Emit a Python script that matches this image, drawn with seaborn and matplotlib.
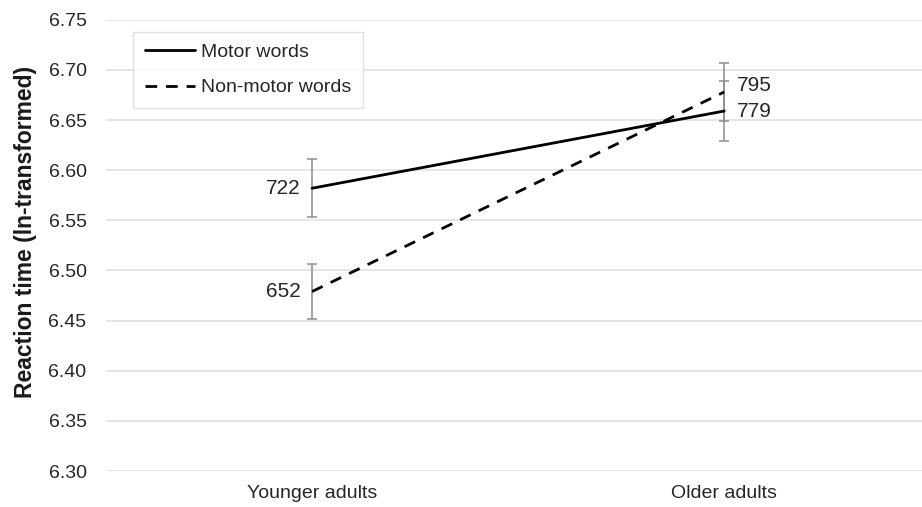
import matplotlib
matplotlib.use("Agg")
import matplotlib.pyplot as plt
import seaborn as sns
import pandas as pd

# datos
grupos = ["Younger adults", "Older adults"]
condiciones = ["Motor words", "Non-motor words"]
motor = [6.582, 6.659]
no_motor = [6.479, 6.678]
err_motor = [0.029, 0.030]
err_no_motor = [0.027, 0.029]
etiquetas_motor = ["722", "779"]
etiquetas_no_motor = ["652", "795"]

sns.set_theme(style="whitegrid")
plt.rcParams["font.family"] = ["Liberation Sans", "DejaVu Sans"]

df = pd.DataFrame({
    "grupo": grupos * 2,
    "condicion": [condiciones[0]] * 2 + [condiciones[1]] * 2,
    "rt": motor + no_motor,
})

fig = plt.figure(figsize=(9.22, 5.07), dpi=100)
ax = fig.add_axes([0.115, 0.071, 0.894, 0.89])

# barras de error (gris)
for vals, errs in [(motor, err_motor), (no_motor, err_no_motor)]:
    ax.errorbar(range(len(grupos)), vals, yerr=errs, fmt="none", ecolor="#8c8c8c",
                elinewidth=1.1, capsize=3.4, capthick=1.1, zorder=2)

sns.lineplot(data=df, x="grupo", y="rt", style="condicion", color="black",
             linewidth=2.0, ax=ax, sort=False, zorder=3,
             dashes={condiciones[0]: "", condiciones[1]: (4.2, 3.2)})

# etiquetas de valores
ax.text(0 - 0.028, motor[0], etiquetas_motor[0], ha="right", va="center", fontsize=15, color="#262626")
ax.text(0 - 0.028, no_motor[0], etiquetas_no_motor[0], ha="right", va="center", fontsize=15, color="#262626")
ax.text(1 + 0.03, motor[1], etiquetas_motor[1], ha="left", va="center", fontsize=15, color="#262626")
ax.text(1 + 0.03, no_motor[1] + 0.006, etiquetas_no_motor[1], ha="left", va="center", fontsize=15, color="#262626")

ax.set_xlim(-0.5, 1.5)
ax.set_ylim(6.30, 6.75)
ax.set_yticks([6.30 + 0.05 * i for i in range(10)])
ax.yaxis.set_major_formatter(matplotlib.ticker.FormatStrFormatter("%.2f"))
ax.grid(axis="x", visible=False)
ax.grid(axis="y", color="#e0e0e0", linewidth=1.2)
for s in ax.spines.values():
    s.set_visible(False)
ax.tick_params(axis="both", labelsize=14, colors="#262626", length=0)
ax.tick_params(axis="y", pad=14)
ax.tick_params(axis="x", pad=10)
ax.set_xlabel("")
ax.set_ylabel("Reaction time (ln-transformed)", fontsize=16.5, fontweight="bold", color="#1a1a1a")
ax.yaxis.set_label_coords(-0.084, 0.53)

leg = ax.legend(loc="upper left", bbox_to_anchor=(0.033, 0.973), frameon=True,
                fontsize=14, handlelength=2.6, handletextpad=0.3, borderpad=0.6,
                labelspacing=0.9, fancybox=False, borderaxespad=0)
leg.get_frame().set_edgecolor("#d9d9d9")
leg.get_frame().set_linewidth(1.0)
for t in leg.get_texts():
    t.set_color("#262626")

plt.savefig("out.png", dpi=100)
